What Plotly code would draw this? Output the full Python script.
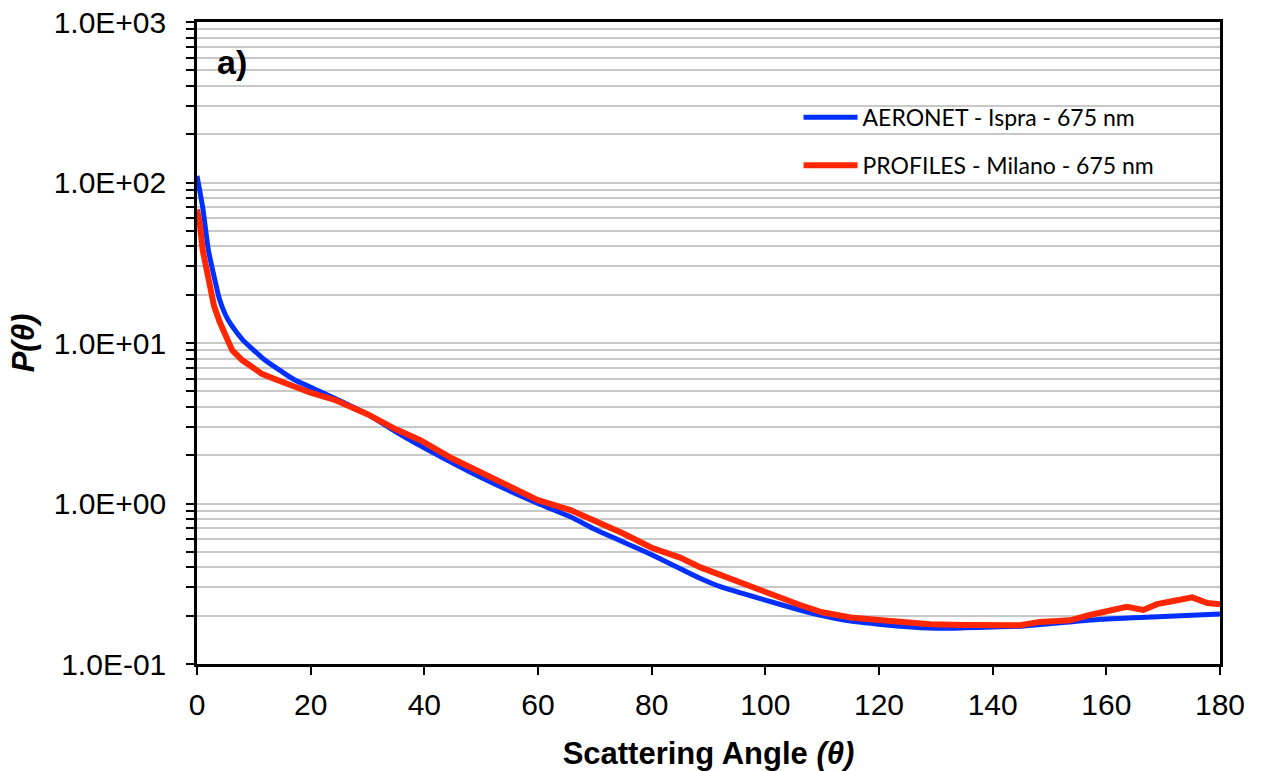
import plotly.graph_objects as go

# AERONET - Ispra - 675 nm
aeronet_angle = [0, 1, 2, 3, 4, 5, 6, 8, 10, 12, 15, 17.3, 20, 24.4, 30, 35, 40.7, 50, 60, 65.7, 70,
                 80, 88.6, 92.1, 100, 106.1, 110, 115, 120, 123.7, 130, 135, 140, 145, 150, 159, 170, 180]
aeronet_p = [110, 70, 38, 26, 18.5, 15, 13, 10.5, 9.0, 7.8, 6.6, 5.86, 5.3, 4.5, 3.6, 2.8, 2.15, 1.45, 1.0, 0.826, 0.69,
             0.48, 0.341, 0.303, 0.25, 0.217, 0.2, 0.185, 0.177, 0.172, 0.167, 0.168, 0.170, 0.172, 0.178, 0.19, 0.198, 0.205]

# PROFILES - Milano - 675 nm
profiles_angle = [0, 0.5, 1, 2, 3, 4, 5, 6.2, 8, 10, 11.5, 14, 17.3, 20, 24.4, 30, 35, 39.3, 45, 50, 55, 60, 65.7,
                  70, 75, 80, 85, 88.6, 92.1, 100, 106.1, 110, 115, 120, 123.7, 129, 135, 140, 144.8, 148.3, 153.6,
                  157.1, 159.4, 161.9, 163.6, 166.5, 168.9, 171.8, 175.1, 177.8, 180]
profiles_p = [68, 55, 38, 25, 17, 13.5, 11, 9.0, 7.8, 7.0, 6.4, 5.9, 5.3, 4.9, 4.4, 3.6, 2.9, 2.48, 1.9, 1.55, 1.27, 1.05, 0.91,
              0.78, 0.65, 0.53, 0.46, 0.40, 0.358, 0.28, 0.233, 0.21, 0.195, 0.188, 0.183, 0.177, 0.175, 0.175, 0.1745, 0.183, 0.187,
              0.202, 0.211, 0.217, 0.227, 0.217, 0.236, 0.247, 0.26, 0.24, 0.236]

x_ticks = [0, 20, 40, 60, 80, 100, 120, 140, 160, 180]
decade_labels = {0.1: "1.0E-01", 1: "1.0E+00", 10: "1.0E+01", 100: "1.0E+02", 1000: "1.0E+03"}

y_tickvals = []
y_ticktext = []
for e in [-1, 0, 1, 2]:
    for m in range(1, 10):
        v = round(m * 10 ** e, 6)
        y_tickvals.append(v)
        y_ticktext.append(decade_labels.get(v, ""))
y_tickvals.append(1000)
y_ticktext.append("1.0E+03")

fig = go.Figure()
fig.add_trace(go.Scatter(x=aeronet_angle, y=aeronet_p, mode="lines", name="AERONET - Ispra - 675 nm",
                         line=dict(color="rgb(0,48,255)", width=5, shape="spline", smoothing=0.6),
                         legendgroup="a"))
fig.add_trace(go.Scatter(x=profiles_angle, y=profiles_p, mode="lines", name="PROFILES - Milano - 675 nm",
                         line=dict(color="rgb(255,38,0)", width=6),
                         legendgroup="b"))

fig.update_layout(
    width=1263, height=771,
    paper_bgcolor="white", plot_bgcolor="white",
    margin=dict(l=197, r=43, t=22, b=107, autoexpand=False),
    font=dict(family="Liberation Sans, Arial", color="black", size=30),
    showlegend=True,
    legend=dict(x=0.588, y=0.885, xanchor="left", yanchor="top",
                font=dict(family="Lato", size=23, color="black"),
                bgcolor="rgba(0,0,0,0)", traceorder="grouped", tracegroupgap=15,
                itemwidth=54),
    xaxis=dict(range=[0, 180], tickvals=x_ticks, ticks="outside", ticklen=8, tickwidth=2,
               tickcolor="black", showline=True, linewidth=2.5, linecolor="black", mirror=True,
               showgrid=False, zeroline=False, automargin=False, ticklabelstandoff=4,
               ticklabeloverflow="allow",
               tickfont=dict(size=30),
               title=dict(text="<b>Scattering Angle <i>(θ)</i></b>", font=dict(size=31), standoff=26)),
    yaxis=dict(type="log", range=[-1, 3], tickvals=y_tickvals, ticktext=y_ticktext,
               ticks="outside", ticklen=8, tickwidth=2, tickcolor="black",
               showline=True, linewidth=2.5, linecolor="black", mirror=True,
               showgrid=True, gridcolor="rgb(200,200,200)", gridwidth=2, zeroline=False,
               automargin=False, ticklabeloverflow="allow",
               tickfont=dict(size=30), ticklabelstandoff=14,
               title=dict(text="<b><i>P(θ)</i></b>", font=dict(size=31), standoff=10)),
    annotations=[dict(text="<b>a)</b>", x=0.034, y=0.937, xref="paper", yref="paper",
                      xanchor="center", yanchor="middle",
                      showarrow=False, font=dict(size=34, family="Liberation Sans, Arial"))],
)

fig.write_html("out.html", config={"displayModeBar": False},
               post_script="document.body.style.margin='0px';")
